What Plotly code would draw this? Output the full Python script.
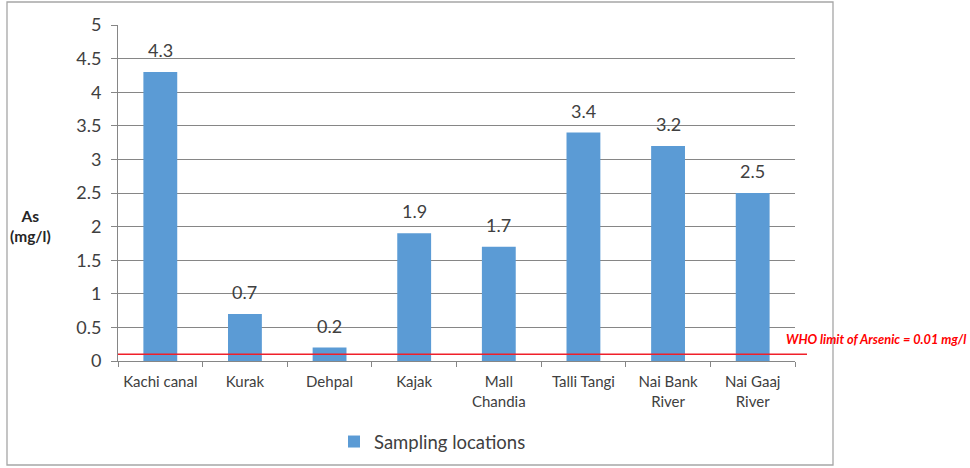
import plotly.graph_objects as go

# Arsenic concentration at each sampling location (mg/l)
locations = ["Kachi canal", "Kurak", "Dehpal", "Kajak", "Mall<br>Chandia",
             "Talli Tangi", "Nai Bank<br>River", "Nai Gaaj<br>River"]
arsenic = [4.3, 0.7, 0.2, 1.9, 1.7, 3.4, 3.2, 2.5]

y_ticks = [0, 0.5, 1, 1.5, 2, 2.5, 3, 3.5, 4, 4.5, 5]
who_label = "WHO limit of Arsenic = 0.01 mg/l"
who_line_level = 0.1

FONT = "Lato, 'Open Sans', sans-serif"
W, H = 970, 468
L, R, T, B = 118, 175, 25, 107
PW, PH = W - L - R, H - T - B


def px_x(px):
    return (px - L) / PW


def px_y(py):
    return (H - B - py) / PH


fig = go.Figure()
fig.add_trace(go.Bar(
    x=locations, y=arsenic, name="Sampling locations",
    marker=dict(color="#5B9BD5", line=dict(width=0)),
    width=0.4,
))

# value labels above each bar
for loc, v in zip(locations, arsenic):
    fig.add_annotation(x=loc, y=v, text=f"{v:g}", showarrow=False,
                       yanchor="bottom", yshift=9,
                       font=dict(family=FONT, size=18, color="#404040"))

# WHO reference line
fig.add_shape(type="line", xref="paper", yref="y",
              x0=0, x1=px_x(807), y0=who_line_level, y1=who_line_level,
              line=dict(color="#F0202A", width=1.6), layer="above")
fig.add_annotation(xref="paper", yref="paper", x=px_x(784), y=px_y(339),
                   xanchor="left", yanchor="middle", showarrow=False,
                   text=f"<b><i>{who_label}</i></b>",
                   font=dict(family=FONT, size=12.8, color="#FF0000"))

# y-axis caption
fig.add_annotation(xref="paper", yref="paper", x=px_x(30), y=px_y(226),
                   xanchor="center", yanchor="middle", showarrow=False,
                   text="<b>As<br>(mg/l)</b>", align="center",
                   font=dict(family=FONT, size=15.5, color="#262626"))

# chart border
fig.add_shape(type="rect", xref="paper", yref="paper",
              x0=px_x(7), x1=px_x(833), y0=px_y(465), y1=px_y(2),
              line=dict(color="#A6A6A6", width=1.3), layer="below")

fig.update_layout(
    width=W, height=H,
    margin=dict(l=L, r=R, t=T, b=B, pad=0, autoexpand=False),
    paper_bgcolor="white", plot_bgcolor="white",
    font=dict(family=FONT, color="#404040"),
    showlegend=True,
    legend=dict(orientation="h", x=px_x(334), y=px_y(442),
                xanchor="left", yanchor="middle",
                font=dict(family=FONT, size=18.5, color="#404040"),
                itemwidth=30),
    bargap=0.6,
)
fig.update_xaxes(
    showgrid=False, showline=True, linecolor="#868686", linewidth=1,
    ticks="outside", ticklen=5, tickcolor="#868686", tickson="boundaries",
    tickangle=0, ticklabelstandoff=7,
    tickfont=dict(family=FONT, size=15, color="#404040"),
)
fig.update_yaxes(
    range=[0, 5], tickvals=y_ticks, ticktext=[f"{t:g}" for t in y_ticks],
    showgrid=True, gridcolor="#868686", gridwidth=1,
    showline=True, linecolor="#868686", linewidth=1,
    ticks="outside", ticklen=6, tickcolor="#868686",
    ticklabelstandoff=6,
    tickfont=dict(family=FONT, size=18, color="#404040"),
    zeroline=False,
)

fig.write_html("out.html")
